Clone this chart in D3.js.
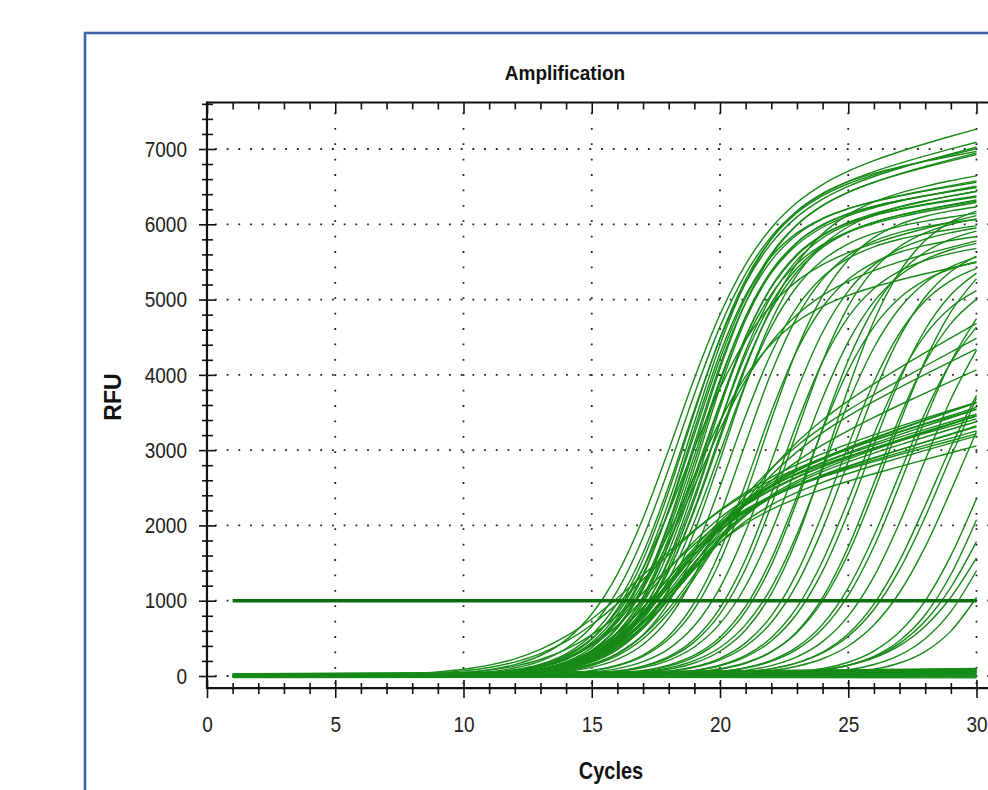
<!DOCTYPE html>
<html lang="en">
<head>
<meta charset="UTF-8">
<title>Amplification</title>
<script src="https://cdnjs.cloudflare.com/ajax/libs/d3/7.8.5/d3.min.js"></script>
<style>
body { margin: 0; background: #fff; }
svg { display: block; font-family: 'Liberation Sans', Arial, sans-serif; }
.hgrid { stroke: #222; stroke-width: 1.8; stroke-dasharray: 1.8 9.9; }
.vgrid { stroke: #222; stroke-width: 1.8; stroke-dasharray: 1.8 13.6; }
.tick line { stroke: #111; stroke-width: 1.6; }
.tick text { font-size: 19px; fill: #222; }
.frame { stroke: #111; stroke-width: 2.2; }
.curve { fill: none; stroke: #178a17; stroke-width: 1.4; }
.threshold { fill: none; stroke: #0a6e0a; stroke-width: 3.6; }
.lbl { font-weight: bold; fill: #111; }
</style>
</head>
<body>
<svg width="988" height="790"></svg>
<script>
// cycles run 1..30
var cycles = d3.range(1, 31);
var yTickValues = d3.range(0, 7601, 200);
var xTickValues = d3.range(0, 31, 1);
var threshold = 1000;

// amplification curves, each [mid cycle, spread, plateau RFU, late drift RFU/cycle]
var earlyHigh = [
  [18.1, 1.7, 6200, 90], [18.3, 1.6, 6100, 85], [18.5, 1.55, 6050, 85],
  [18.6, 1.5, 6150, 75], [18.8, 1.5, 6000, 85], [19.0, 1.45, 6050, 80],
  [18.7, 1.4, 5900, 60], [18.9, 1.4, 5950, 55], [19.0, 1.45, 5850, 60],
  [19.1, 1.4, 5900, 55], [19.2, 1.4, 5950, 50], [19.3, 1.45, 5800, 60],
  [19.4, 1.4, 5850, 50], [19.5, 1.5, 5750, 55], [19.6, 1.45, 5900, 45],
  [19.7, 1.5, 5800, 50], [19.2, 1.5, 5700, 55], [19.9, 1.55, 5750, 40],
  [18.5, 1.6, 5200, 80], [18.9, 1.7, 4900, 80], [18.6, 1.6, 4700, 70],
  [20.1, 1.5, 5950, 50], [19.9, 1.6, 6100, 55], [18.8, 1.5, 6300, 60]
];
var earlyLow = [
  [17.8, 1.5, 2200, 110], [17.6, 1.5, 2150, 105], [17.9, 1.45, 2100, 100],
  [17.7, 1.55, 2250, 100], [18.0, 1.5, 2050, 95], [17.5, 1.6, 2200, 115],
  [18.1, 1.5, 2150, 110], [17.4, 1.5, 2000, 105], [17.9, 1.6, 2300, 105],
  [17.6, 1.45, 2100, 90], [18.2, 1.55, 2200, 100], [17.3, 1.5, 2050, 95],
  [18.0, 1.5, 2250, 115], [17.7, 1.5, 1950, 90], [16.6, 2.1, 2300, 100],
  [16.3, 2.2, 2250, 95], [16.9, 2.0, 2150, 100], [17.2, 1.6, 2200, 95],
  [18.4, 1.6, 2400, 180], [18.8, 1.6, 2500, 165], [18.2, 1.7, 2300, 150],
  [19.0, 1.6, 2600, 190]
];
var late = [
  [20.3, 1.5, 5600, 40], [20.8, 1.5, 5800, 30], [21.2, 1.45, 5500, 40],
  [21.6, 1.5, 6000, 30], [22.0, 1.5, 5700, 35], [22.3, 1.45, 5400, 40],
  [22.7, 1.5, 5900, 30], [23.0, 1.55, 5600, 30], [23.3, 1.5, 5300, 40],
  [23.6, 1.5, 5800, 30], [24.0, 1.55, 5500, 30], [24.3, 1.5, 6200, 20],
  [24.6, 1.5, 5400, 30], [25.0, 1.55, 5700, 20], [25.3, 1.5, 5200, 30],
  [25.7, 1.55, 5600, 20], [26.1, 1.5, 5300, 20], [26.5, 1.6, 5800, 20],
  [26.9, 1.55, 5200, 20], [27.3, 1.6, 5600, 10], [27.8, 1.6, 5400, 10],
  [28.3, 1.6, 5000, 10], [28.8, 1.7, 5500, 10]
];
var veryLate = [
  [29.3, 1.7, 5400, 0], [30.3, 1.6, 5200, 0], [30.8, 1.6, 5500, 0],
  [31.0, 1.7, 5000, 0], [31.6, 1.6, 5200, 0], [32.0, 1.5, 5000, 0],
  [31.3, 1.8, 4800, 0]
];
// negatives: RFU at cycle 1 and at cycle 30
var flat = [
  [0, 60], [10, 80], [-10, 40], [5, 90], [20, 30], [-20, -10], [0, 0], [15, 50],
  [-5, 70], [10, 20], [0, 100], [25, 65], [-15, 15], [5, 45], [30, 85], [-10, -25]
];

var svg = d3.select("svg");
var x = d3.scaleLinear().domain([0, 30]).range([207, 976.5]);
var y = d3.scaleLinear().domain([0, 7000]).range([676, 149]);
var plotTop = 102.5, plotBottom = y(-160), plotLeft = x(0), plotRight = 988;

function rfu(p, c) {
  var g = 1 / (1 + Math.exp(-(c - p[0]) / p[1]));
  return g * (p[2] + p[3] * (c - p[0]));
}

// outer blue frame
svg.append("rect")
  .attr("x", 85).attr("y", 33).attr("width", 960).attr("height", 820)
  .attr("fill", "none").attr("stroke", "#3d64ab").attr("stroke-width", 2.6);

svg.append("text").attr("class", "lbl")
  .attr("transform", "translate(565,80) scale(1,1.1)").attr("text-anchor", "middle")
  .style("font-size", "19px").text("Amplification");

// dotted grid
svg.append("g").selectAll("line")
  .data(d3.range(0, 7001, 1000)).enter().append("line")
  .attr("class", "hgrid")
  .attr("x1", plotLeft + 8).attr("x2", plotRight)
  .attr("y1", function(d) { return y(d); }).attr("y2", function(d) { return y(d); });
svg.append("g").selectAll("line")
  .data(d3.range(5, 31, 5)).enter().append("line")
  .attr("class", "vgrid")
  .attr("y1", plotTop + 10).attr("y2", plotBottom)
  .attr("x1", function(d) { return x(d); }).attr("x2", function(d) { return x(d); });

// curves
var defs = svg.append("defs");
defs.append("clipPath").attr("id", "plotclip").append("rect")
  .attr("x", plotLeft).attr("y", plotTop).attr("width", plotRight - plotLeft).attr("height", plotBottom - plotTop);

var line = d3.line()
  .x(function(d) { return x(d[0]); })
  .y(function(d) { return y(d[1]); })
  .curve(d3.curveMonotoneX);

var curves = svg.append("g").attr("clip-path", "url(#plotclip)");

curves.selectAll(".flat")
  .data(flat).enter().append("path")
  .attr("class", "curve")
  .attr("d", function(p) { return line([[1, p[0]], [30, p[1]]]); });

var amp = [].concat(earlyLow, earlyHigh, late, veryLate);
curves.selectAll(".amp")
  .data(amp).enter().append("path")
  .attr("class", "curve")
  .attr("d", function(p) {
    return line(cycles.map(function(c) { return [c, rfu(p, c)]; }));
  });

curves.append("path")
  .attr("class", "threshold")
  .attr("d", line([[1, threshold], [30, threshold]]));

// axes
var gy = svg.append("g").attr("transform", "translate(" + plotLeft + ",0)")
  .call(d3.axisLeft(y).tickValues(yTickValues)
    .tickFormat(function(d) { return d % 1000 === 0 ? d : ""; }));
gy.select(".domain").remove();
gy.selectAll(".tick line")
  .attr("x1", function(d) { return d % 1000 === 0 ? -8 : -5; })
  .attr("x2", function(d) { return d % 1000 === 0 ? 9 : 6; });
gy.selectAll(".tick text").attr("x", -20).attr("dy", "0.33em")
  .attr("transform", "scale(1,1.15)");

var gx = svg.append("g").attr("transform", "translate(0," + plotBottom + ")")
  .call(d3.axisBottom(x).tickValues(xTickValues)
    .tickFormat(function(d) { return d % 5 === 0 ? d : ""; }));
gx.select(".domain").remove();
gx.selectAll(".tick line")
  .attr("y1", function(d) { return d % 5 === 0 ? -8 : -5; })
  .attr("y2", function(d) { return d % 5 === 0 ? 10 : 6; });
gx.selectAll(".tick text").attr("y", 25).attr("dy", "0.71em")
  .attr("transform", "scale(1,1.15)");

var gt = svg.append("g").attr("transform", "translate(0," + plotTop + ")")
  .call(d3.axisBottom(x).tickValues(xTickValues).tickFormat(""));
gt.select(".domain").remove();
gt.selectAll(".tick line")
  .attr("y1", 0)
  .attr("y2", function(d) { return d % 5 === 0 ? 11 : 7; });

svg.append("line").attr("class", "frame")
  .attr("x1", plotLeft).attr("x2", plotLeft).attr("y1", plotTop - 1).attr("y2", plotBottom + 1);
svg.append("line").attr("class", "frame")
  .attr("x1", plotLeft).attr("x2", plotRight).attr("y1", plotTop).attr("y2", plotTop);
svg.append("line").attr("class", "frame")
  .attr("x1", plotLeft).attr("x2", plotRight).attr("y1", plotBottom).attr("y2", plotBottom);

svg.append("text").attr("class", "lbl")
  .attr("transform", "translate(121,397) rotate(-90)")
  .attr("text-anchor", "middle").style("font-size", "23px").text("RFU");

svg.append("text").attr("class", "lbl")
  .attr("transform", "translate(611,779) scale(1,1.2)").attr("text-anchor", "middle")
  .style("font-size", "20px").text("Cycles");
</script>
</body>
</html>
